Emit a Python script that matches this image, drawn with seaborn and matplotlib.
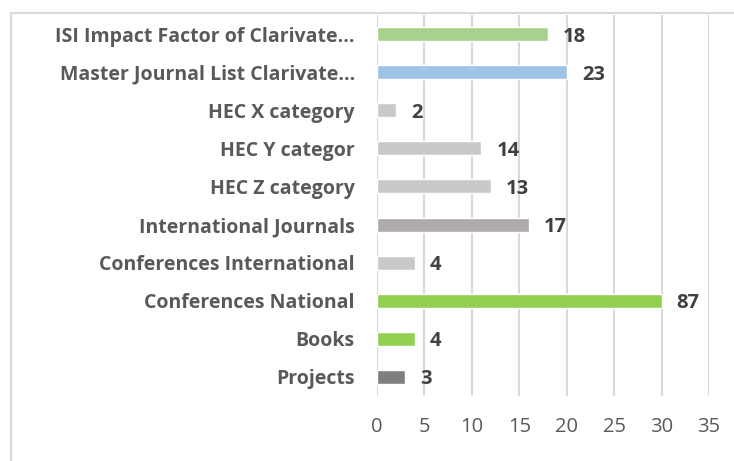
import matplotlib
matplotlib.use("Agg")
import matplotlib.pyplot as plt
import seaborn as sns
import pandas as pd
from matplotlib.lines import Line2D

# categories top -> bottom, as in the picture
categories = [
    "ISI Impact Factor of Clarivate...",
    "Master Journal List Clarivate...",
    "HEC X category",
    "HEC Y categor",
    "HEC Z category",
    "International Journals",
    "Conferences International",
    "Conferences National",
    "Books",
    "Projects",
]
# bar lengths as drawn on the axis
bar_lengths = [18, 20, 2, 11, 12, 16, 4, 30, 4, 3]
# numbers printed next to the bars
value_labels = ["18", "23", "2", "14", "13", "17", "4", "87", "4", "3"]
bar_colors = ["#a9d18e", "#9dc3e6", "#c9c9c9", "#c9c9c9", "#c9c9c9",
              "#afabab", "#c9c9c9", "#92d050", "#92d050", "#7f7f7f"]
x_ticks = [0, 5, 10, 15, 20, 25, 30, 35]

sns.set_style("white")
plt.rcParams["font.family"] = ["Open Sans", "DejaVu Sans"]

df = pd.DataFrame({"category": categories, "value": bar_lengths})

fig = plt.figure(figsize=(7.34, 4.61), dpi=100)
ax = fig.add_axes([377 / 734, 1 - 396 / 461, (709 - 377) / 734, (396 - 15) / 461])

sns.barplot(data=df, x="value", y="category", hue="category",
            palette=bar_colors, saturation=1, orient="h", width=0.37,
            legend=False, ax=ax, zorder=3)

ax.set_xlim(0, 35)
ax.set_xticks(x_ticks)
ax.set_xticklabels([str(t) for t in x_ticks], fontsize=14.5, color="#595959")
ax.tick_params(axis="x", length=0, pad=15)
ax.tick_params(axis="y", length=0, pad=16)
for lbl in ax.get_yticklabels():
    lbl.set_fontsize(14)
    lbl.set_fontweight("bold")
    lbl.set_color("#595959")
ax.set_xlabel("")
ax.set_ylabel("")
ax.grid(axis="x", color="#d9d9d9", linewidth=1.5, zorder=0)
for s in ax.spines.values():
    s.set_visible(False)

# value labels next to the bars
for i, (v, txt) in enumerate(zip(bar_lengths, value_labels)):
    ax.text(v + 1.6, i, txt, va="center_baseline", ha="left", fontsize=14.5,
            fontweight="bold", color="#404040", zorder=4)

# outer chart border (top and left visible)
fig.add_artist(Line2D([10.5 / 734, 1], [1 - 13 / 461, 1 - 13 / 461],
                      color="#d9d9d9", linewidth=1.5, transform=fig.transFigure))
fig.add_artist(Line2D([10.5 / 734, 10.5 / 734], [0, 1 - 13 / 461],
                      color="#d9d9d9", linewidth=1.5, transform=fig.transFigure))

fig.savefig("out.png", dpi=100)
